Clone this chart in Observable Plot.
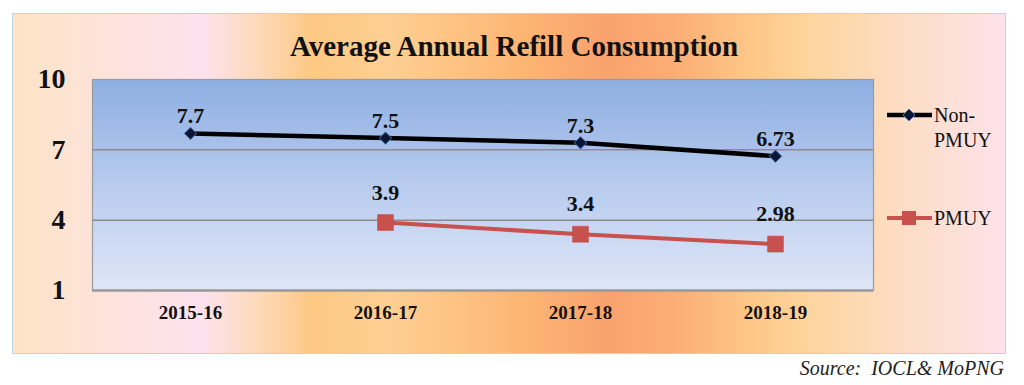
<!DOCTYPE html>
<html>
<head>
<meta charset="utf-8">
<script src="https://cdn.jsdelivr.net/npm/d3@7"></script>
<script src="https://cdn.jsdelivr.net/npm/@observablehq/plot@0.6"></script>
<style>
  html, body { margin: 0; padding: 0; background: #ffffff; }
  #wrap { position: relative; width: 1024px; height: 385px; overflow: hidden; font-family: "Liberation Serif", "Times New Roman", serif; }
  #bg { position: absolute; left: 12px; top: 13px; width: 992px; height: 339px; border: 1px solid #c3d0ea;
        background: linear-gradient(90deg, #fde4c6 0%, #fde3dc 10%, #fde2ee 19%, #fdd9b8 25%, #fdc984 30%, #fdcf92 38%, #fdc484 44%, #fcb472 52%, #f9a26e 60%, #fbae76 67%, #fdc686 74%, #fdd49c 80%, #fddcbe 88%, #fde0d8 95%, #fde2ea 100%); }
  #chart { position: absolute; left: 0; top: 0; }
  #title { position: absolute; left: 0; width: 1028px; top: 29px; text-align: center; font-weight: bold; font-size: 29px; color: #111; line-height: 34px; }
  #legend { position: absolute; left: 886px; top: 0; font-size: 20px; color: #111; }
  .lg { position: absolute; left: 0; display: flex; align-items: flex-start; white-space: nowrap; }
  .lg svg { display: block; }
  .lg span { line-height: 25px; }
  #source { position: absolute; right: 20px; top: 357px; font-style: italic; font-size: 20px; color: #222; white-space: pre; }
</style>
</head>
<body>
<div id="wrap">
  <div id="bg"></div>
  <div id="title">Average Annual Refill Consumption</div>
  <div id="chart"></div>
  <div id="legend"></div>
  <div id="source">Source:  IOCL&amp; MoPNG</div>
</div>
<script>
// ---- data ----
const years = ["2015-16", "2016-17", "2017-18", "2018-19"];
const nonPmuyValues = [7.7, 7.5, 7.3, 6.73];
const pmuyValues = [null, 3.9, 3.4, 2.98];
const yTicks = [1, 4, 7, 10];
const seriesNames = ["Non-PMUY", "PMUY"];

const nonData = years.map((year, i) => ({year, value: nonPmuyValues[i]}));
const pmuyData = years.map((year, i) => ({year, value: pmuyValues[i]})).filter(d => d.value != null);

const black = "#000000";
const red = "#c8504d";

// custom square-diamond symbol (rotated square)
const diamond = {
  draw(context, size) {
    const r = Math.sqrt(size) * 0.62625;
    context.moveTo(0, -r);
    context.lineTo(r, 0);
    context.lineTo(0, r);
    context.lineTo(-r, 0);
    context.closePath();
  }
};

const font = "'Liberation Serif', 'Times New Roman', serif";

const chart = Plot.plot({
  width: 1024,
  height: 385,
  marginLeft: 92,
  marginRight: 151,
  marginTop: 79,
  marginBottom: 95,
  style: { background: "transparent", fontFamily: font, overflow: "visible", color: "#111" },
  x: { type: "point", domain: years, padding: 0.5 },
  y: { domain: [1, 10] },
  marks: [
    Plot.frame({ fill: "url(#plotGrad)", stroke: "#9a9a9a", strokeWidth: 1.2 }),
    Plot.gridY([4, 7], { stroke: "#8c8c8c", strokeOpacity: 1, strokeWidth: 1.5 }),
    Plot.ruleY([1], { stroke: "#9a9a9a", strokeWidth: 2.5 }),
    Plot.axisY(yTicks, { tickSize: 0, tickPadding: 27, fontSize: 28, fontWeight: "bold", label: null }),
    Plot.axisX(years, { tickSize: 0, tickPadding: 15, fontSize: 19, fontWeight: "bold", label: null }),
    Plot.line(nonData, { x: "year", y: "value", stroke: black, strokeWidth: 4.5 }),
    Plot.dot(nonData, { x: "year", y: "value", symbol: diamond, r: 5.6, fill: "#0b1634", stroke: "#4a72b8", strokeWidth: 1 }),
    Plot.line(pmuyData, { x: "year", y: "value", stroke: red, strokeWidth: 4 }),
    Plot.dot(pmuyData, { x: "year", y: "value", symbol: "square", r: 9, fill: red, stroke: "#c04a47", strokeWidth: 0.5 }),
    Plot.text(nonData, { x: "year", y: "value", text: d => String(d.value), dy: -10, lineAnchor: "bottom", fontSize: 22, fontWeight: "bold", fill: "#111" }),
    Plot.text(pmuyData, { x: "year", y: "value", text: d => String(d.value), dy: -23, lineAnchor: "bottom", fontSize: 22, fontWeight: "bold", fill: "#111" })
  ]
});

// gradient for plot area
const ns = "http://www.w3.org/2000/svg";
const defs = document.createElementNS(ns, "defs");
defs.innerHTML = `<linearGradient id="plotGrad" x1="0" y1="0" x2="0" y2="1">
  <stop offset="0%" stop-color="#8eafe2"/>
  <stop offset="50%" stop-color="#b8cbee"/>
  <stop offset="100%" stop-color="#dfe7f7"/>
</linearGradient>`;
chart.insertBefore(defs, chart.firstChild);
document.getElementById("chart").appendChild(chart);

// legend
const legend = document.getElementById("legend");
const items = [
  { name: seriesNames[0], top: 103, lines: ["Non-", "PMUY"], sw: `<line x1="1" y1="12" x2="46" y2="12" stroke="${black}" stroke-width="4.5"/><path d="M23,6 L29,12 L23,18 L17,12 Z" fill="#0b1634" stroke="#4a72b8" stroke-width="1"/>` },
  { name: seriesNames[1], top: 206, lines: ["PMUY"], sw: `<line x1="1" y1="12" x2="46" y2="12" stroke="${red}" stroke-width="4"/><rect x="16" y="5" width="14" height="14" fill="${red}"/>` }
];
for (const it of items) {
  const div = document.createElement("div");
  div.className = "lg";
  div.style.top = it.top + "px";
  div.innerHTML = `<svg width="48" height="24">${it.sw}</svg><span>${it.lines.join("<br>")}</span>`;
  legend.appendChild(div);
}
</script>
</body>
</html>
